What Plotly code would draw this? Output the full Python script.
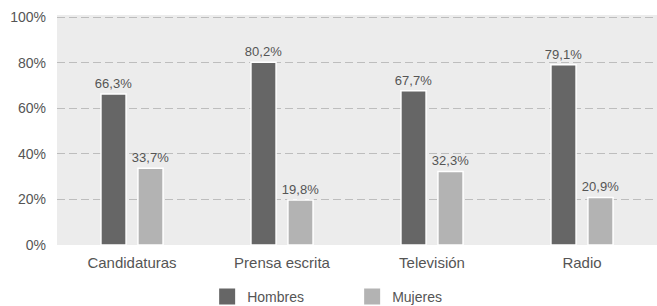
import plotly.graph_objects as go

categories = ["Candidaturas", "Prensa escrita", "Televisión", "Radio"]
hombres = [66.3, 80.2, 67.7, 79.1]
mujeres = [33.7, 19.8, 32.3, 20.9]
series_names = ["Hombres", "Mujeres"]
colors = ["#666666", "#b3b3b3"]
y_ticks = [0, 20, 40, 60, 80, 100]

def fmt(v):
    return f"{v:.1f}".replace(".", ",") + "%"

font_family = "Liberation Sans, Arial, sans-serif"
text_color = "#555555"

fig = go.Figure()
for name, vals, col in zip(series_names, [hombres, mujeres], colors):
    fig.add_trace(go.Bar(
        x=categories, y=vals, name=name,
        marker=dict(color=col, line=dict(color="white", width=1.5)),
        text=[fmt(v) for v in vals], textposition="outside",
        constraintext="none",
        textfont=dict(size=13, color=text_color, family=font_family),
        cliponaxis=False, showlegend=False, hoverinfo="skip",
    ))
    fig.add_trace(go.Scatter(
        x=[None], y=[None], mode="markers", name=name,
        marker=dict(symbol="square", size=17, color=col),
        showlegend=True,
    ))

fig.update_layout(
    width=657, height=306,
    margin=dict(l=57, r=0, t=15, b=61, autoexpand=False),
    paper_bgcolor="white",
    plot_bgcolor="#ececec",
    barmode="group",
    bargap=0.507,
    bargroupgap=0.32,
    font=dict(family=font_family, size=14, color=text_color),
    legend=dict(
        orientation="h", xref="container", yref="container",
        x=0.536, xanchor="center", y=0.03, yanchor="middle",
        entrywidth=100, entrywidthmode="pixels",
        font=dict(size=14, color=text_color),
        traceorder="normal",
    ),
    xaxis=dict(showgrid=False, showline=False, ticks="", tickfont=dict(size=15),
               ticklabelstandoff=7),
    yaxis=dict(
        range=[0, 101], tickvals=y_ticks,
        ticktext=[f"{t}%" for t in y_ticks],
        showgrid=True, gridcolor="#bdbdbd", griddash="8px,4px", gridwidth=1,
        zeroline=False, showline=False, ticks="", ticklabelstandoff=10,
        tickfont=dict(size=14),
    ),
)

fig.write_html(
    "out.html",
    config={"displayModeBar": False},
    post_script="document.body.style.margin='0';document.body.style.overflow='hidden';",
)
